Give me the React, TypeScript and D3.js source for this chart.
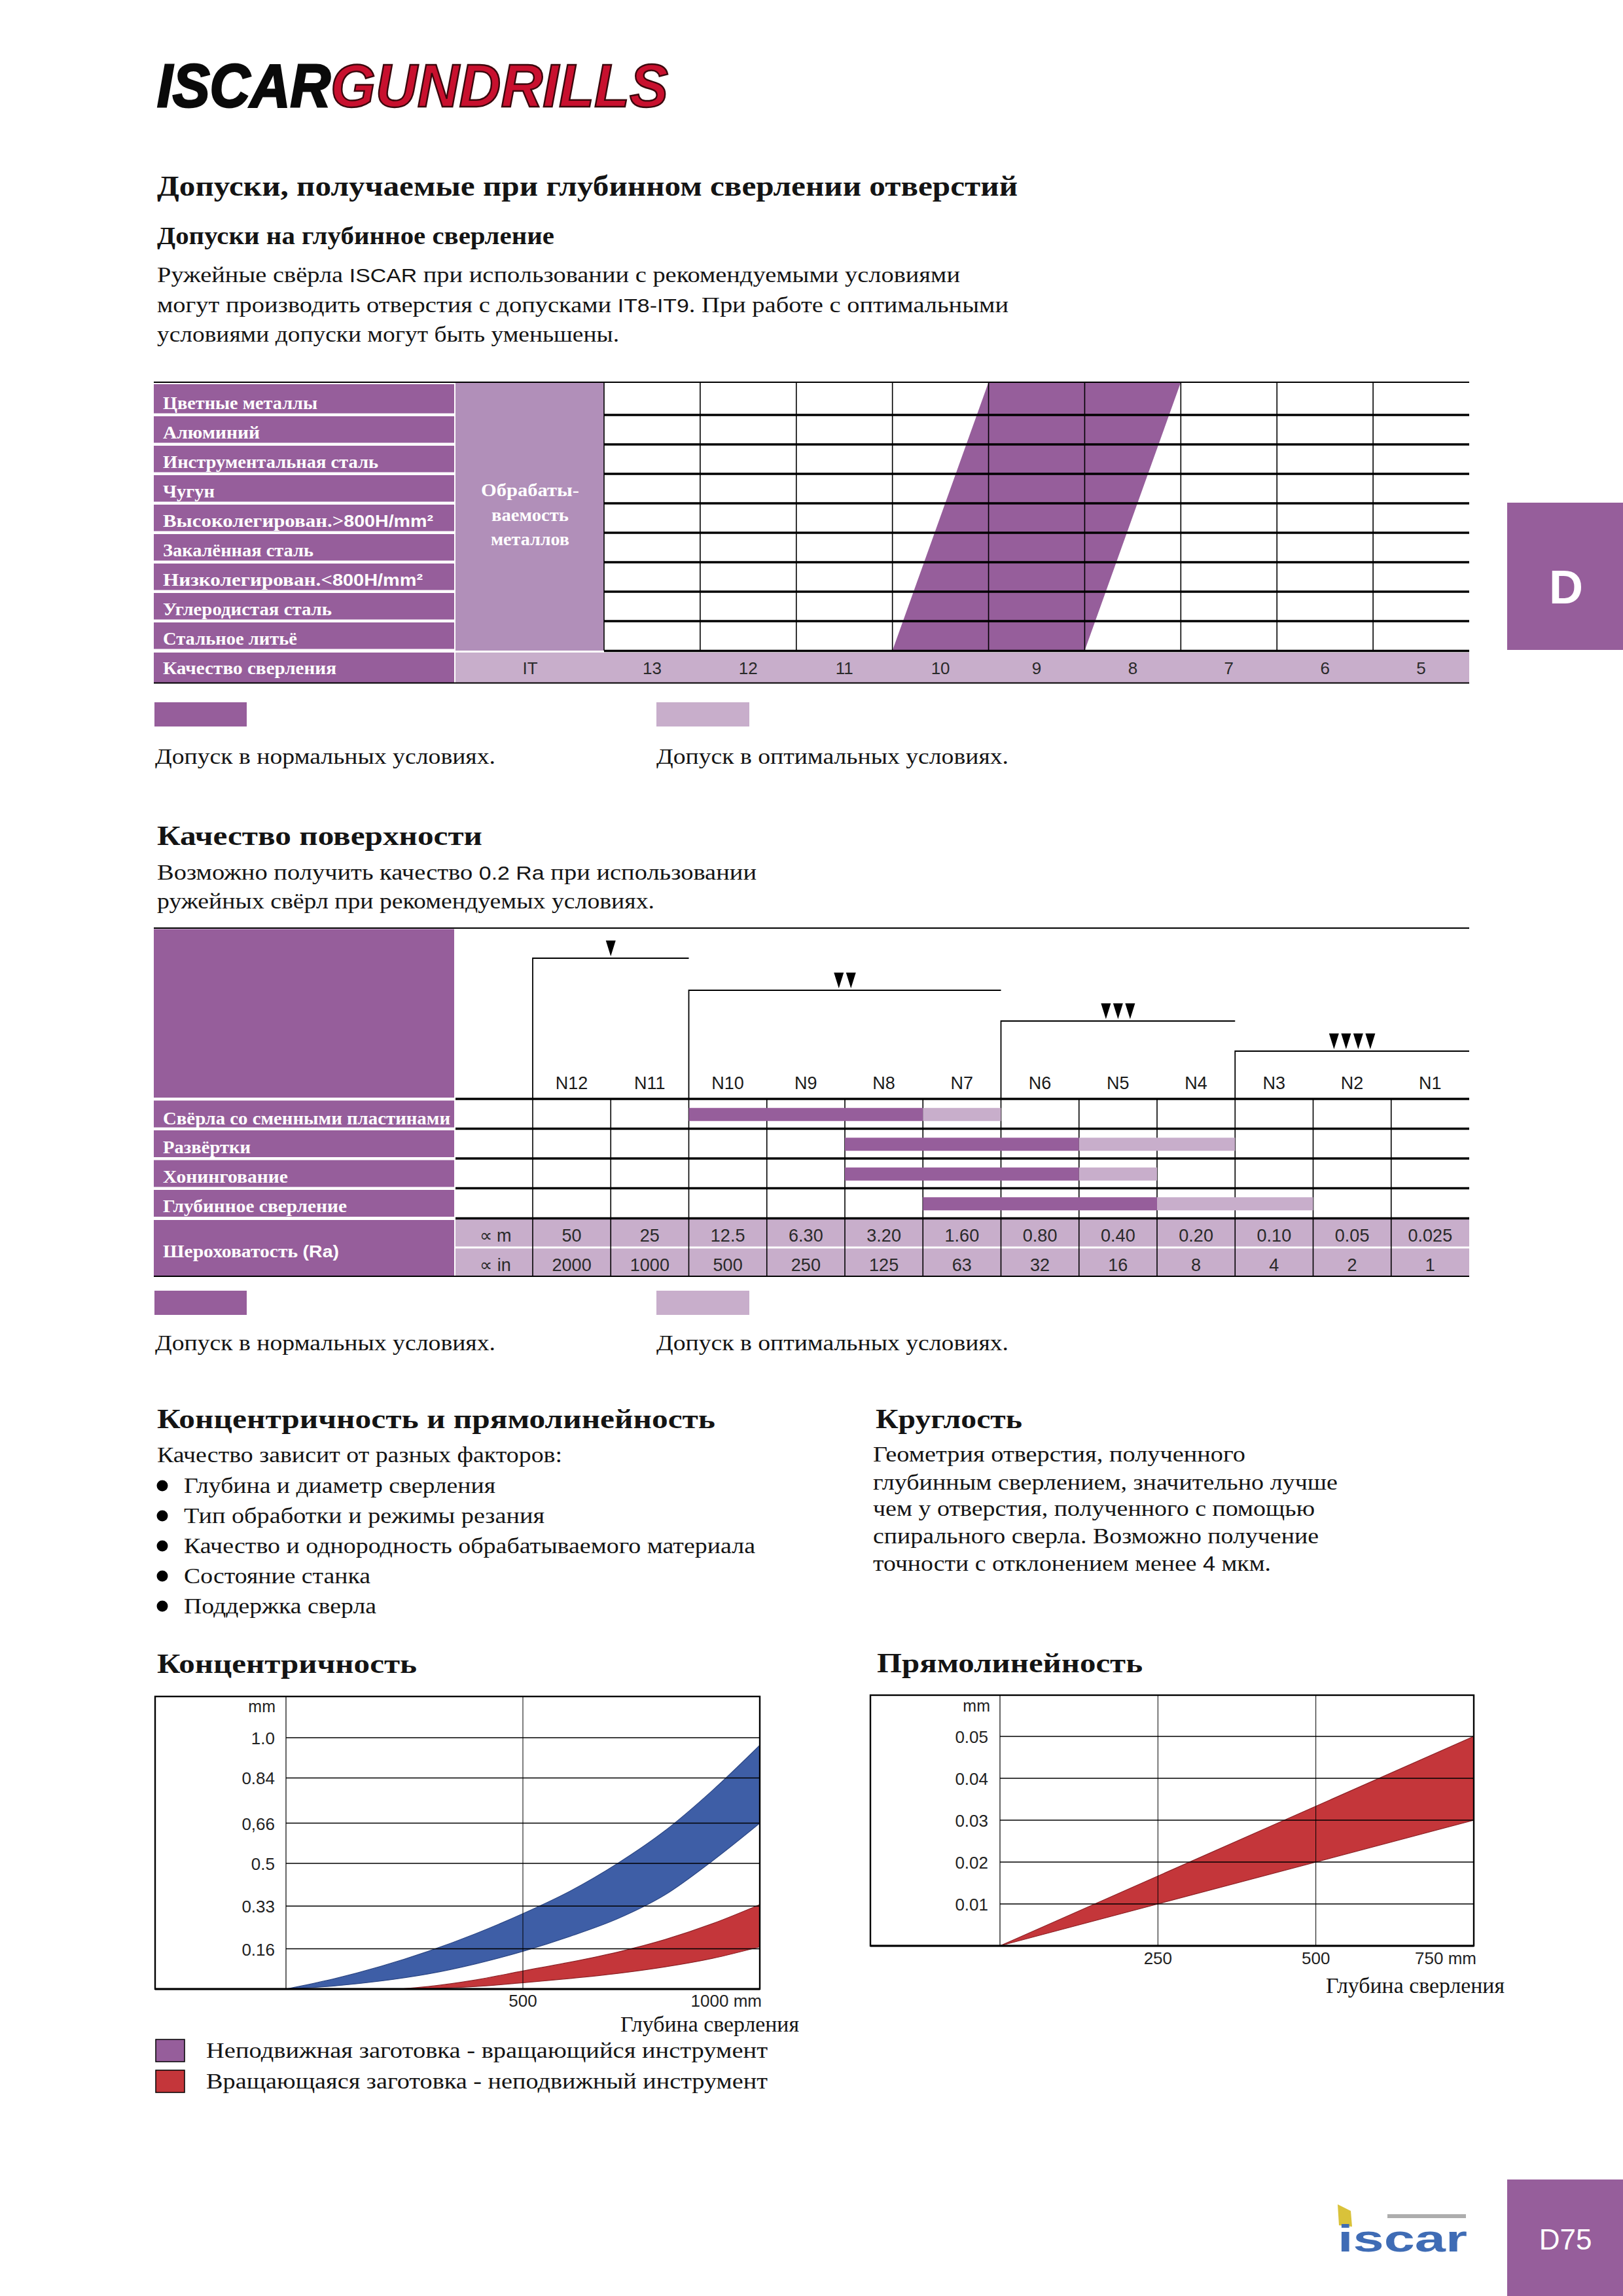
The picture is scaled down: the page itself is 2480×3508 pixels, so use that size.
import React from "react";
import * as d3 from "d3";

const SERIF = "'Liberation Serif','Times New Roman',serif";
const SANS = "'Liberation Sans',Arial,Helvetica,sans-serif";

const PURPLE = "#965e9b";
const PURPLE_LIGHT = "#c8aecb";
const PURPLE_MID = "#b18fb9";
const BLUE = "#3e5ea6";
const RED = "#c4363a";
const LOGO_RED = "#c8102e";
const INK = "#141414";

// ---------- texts ----------
const pageTitle = "Допуски, получаемые при глубинном сверлении отверстий";
const subTitle = "Допуски на глубинное сверление";
const introLines = [
  ["Ружейные свёрла ", "ISCAR", " при использовании с рекомендуемыми условиями"],
  ["могут производить отверстия с допусками ", "IT8-IT9", ". При работе с оптимальными"],
  ["условиями допуски могут быть уменьшены.", "", ""],
];

// ---------- table 1: IT tolerances ----------
const materials = [
  "Цветные металлы",
  "Алюминий",
  "Инструментальная сталь",
  "Чугун",
  "Высоколегирован.>800H/mm²",
  "Закалённая сталь",
  "Низколегирован.<800H/mm²",
  "Углеродистая сталь",
  "Стальное литьё",
];
const drillQualityLabel = "Качество сверления";
const machinabilityLabel = ["Обрабаты-", "ваемость", "металлов"];
const itLabel = "IT";
const itGrades = ["13", "12", "11", "10", "9", "8", "7", "6", "5"];
const normalBandFirstRow = ["9", "8"];
const normalBandLastRow = ["10", "9"];
const legendNormal = "Допуск в нормальных условиях.";
const legendOptimal = "Допуск в оптимальных условиях.";

// ---------- table 2: surface quality ----------
const surfaceTitle = "Качество поверхности";
const surfaceLines = [
  ["Возможно получить качество ", "0.2 Ra", " при использовании"],
  ["ружейных свёрл при рекомендуемых условиях.", "", ""],
];
const nGrades = ["N12", "N11", "N10", "N9", "N8", "N7", "N6", "N5", "N4", "N3", "N2", "N1"];
const raMicron = ["50", "25", "12.5", "6.30", "3.20", "1.60", "0.80", "0.40", "0.20", "0.10", "0.05", "0.025"];
const raMicroinch = ["2000", "1000", "500", "250", "125", "63", "32", "16", "8", "4", "2", "1"];
const raUnits = ["∝ m", "∝ in"];
const raLabel = ["Шероховатость ", "(Ra)"];
const processes = [
  "Свёрла со сменными пластинами",
  "Развёртки",
  "Хонингование",
  "Глубинное сверление",
];
const normalRange = [["N10", "N8"], ["N8", "N6"], ["N8", "N6"], ["N7", "N5"]];
const optimalRange = [["N7", "N7"], ["N5", "N4"], ["N5", "N5"], ["N4", "N3"]];
const qualityGroups = [
  { from: "N12", to: "N11", marks: 1 },
  { from: "N10", to: "N7", marks: 2 },
  { from: "N6", to: "N4", marks: 3 },
  { from: "N3", to: "N1", marks: 4 },
];

// ---------- section 3 ----------
const concTitle = "Концентричность и прямолинейность";
const concIntro = "Качество зависит от разных факторов:";
const concBullets = [
  "Глубина и диаметр сверления",
  "Тип обработки и режимы резания",
  "Качество и однородность обрабатываемого материала",
  "Состояние станка",
  "Поддержка сверла",
];
const roundTitle = "Круглость";
const roundLines = [
  ["Геометрия отверстия, полученного", ""],
  ["глубинным сверлением, значительно лучше", ""],
  ["чем у отверстия, полученного с помощью", ""],
  ["спирального сверла. Возможно получение", ""],
  ["точности с отклонением менее ", "4", " мкм."],
];

// ---------- chart: concentricity ----------
const concChartTitle = "Концентричность";
const concDepth = [0, 100, 200, 300, 400, 500, 600, 700, 800, 900, 1000];
const concStationaryUpper = [0, 0.04, 0.09, 0.15, 0.22, 0.3, 0.39, 0.5, 0.63, 0.79, 0.97];
const concStationaryLower = [0, 0.012, 0.032, 0.06, 0.1, 0.15, 0.21, 0.28, 0.375, 0.51, 0.66];
const concRotDepth = [240, 300, 400, 500, 600, 700, 800, 900, 1000];
const concRotUpper = [0, 0.01, 0.036, 0.072, 0.107, 0.147, 0.197, 0.26, 0.336];
const concRotLower = [0, 0.002, 0.01, 0.025, 0.042, 0.062, 0.088, 0.122, 0.168];
const concYTicks = [0.16, 0.33, 0.5, 0.66, 0.84, 1.0];
const concYTickLabels = ["0.16", "0.33", "0.5", "0,66", "0.84", "1.0"];
const concXTicks = [500, 1000];
const concXTickLabels = ["500", "1000 mm"];
const concLegend = [
  "Неподвижная заготовка - вращающийся инструмент",
  "Вращающаяся заготовка - неподвижный инструмент",
];
const depthLabel = "Глубина сверления";

// ---------- chart: straightness ----------
const straightTitle = "Прямолинейность";
const straightDepth = [0, 750];
const straightUpper = [0, 0.05];
const straightLower = [0, 0.03];
const straightYTicks = [0.01, 0.02, 0.03, 0.04, 0.05];
const straightYTickLabels = ["0.01", "0.02", "0.03", "0.04", "0.05"];
const straightXTicks = [250, 500, 750];
const straightXTickLabels = ["250", "500", "750 mm"];

function T(props: any) {
  const { x, y, w, size, weight, family = SERIF, anchor = "start", fill = INK, children, italic } = props;
  return (
    <text
      x={x}
      y={y}
      fontSize={size}
      fontFamily={family}
      fontWeight={weight}
      fontStyle={italic ? "italic" : undefined}
      textAnchor={anchor}
      fill={fill}
      textLength={w}
      lengthAdjust={w ? "spacingAndGlyphs" : undefined}
    >
      {children}
    </text>
  );
}

function Mixed({ parts, x, y, w, size, fill = INK }: any) {
  return (
    <text x={x} y={y} fontSize={size} fontFamily={SERIF} fill={fill} textLength={w} lengthAdjust="spacingAndGlyphs">
      {parts[0]}
      {parts[1] ? (
        <tspan fontFamily={SANS} fontSize={size * 0.88}>
          {parts[1]}
        </tspan>
      ) : null}
      {parts[2] || null}
    </text>
  );
}

function tri(cx: number, bottom: number, count: number) {
  const w = 15, h = 24, pitch = 18.5;
  const start = cx - ((count - 1) * pitch) / 2;
  return d3.range(count).map((i) => {
    const c = start + i * pitch;
    return `M${c - w / 2},${bottom - h}L${c + w / 2},${bottom - h}L${c},${bottom}Z`;
  }).join("");
}

export default function App() {
  const W = 2480, H = 3508;

  const xIT = d3.scaleBand<string>().domain(itGrades).range([923, 2245]);
  const yMat = d3.scaleBand<string>().domain(materials).range([589, 994]);
  const bw = xIT.bandwidth();
  const matW = [236, 148, 329, 79, 413, 230, 397, 258, 205];
  const bandPath = `M${xIT(normalBandFirstRow[0])},584 L${(xIT(normalBandFirstRow[1]) as number) + bw},584 L${(xIT(normalBandLastRow[1]) as number) + bw},994 L${xIT(normalBandLastRow[0])},994 Z`;

  const xN = d3.scaleBand<string>().domain(nGrades).range([814, 2245]);
  const nbw = xN.bandwidth();
  const yP = d3.scaleBand<string>().domain(processes).range([1679, 1861]);
  const pW = [439, 134, 191, 281];
  const procBase = [1718, 1762, 1807, 1852];
  const bracketY = [1464, 1513, 1560, 1606];

  const xC = d3.scaleLinear().domain([0, 1000]).range([437, 1161]);
  const yC = d3.scaleLinear().domain([0, 1]).range([3039, 2655]);
  const areaStationary = d3
    .area<number>()
    .x((_, i) => xC(concDepth[i]))
    .y0((_, i) => yC(concStationaryLower[i]))
    .y1((d) => yC(d))
    .curve(d3.curveMonotoneX)(concStationaryUpper);
  const areaRot = d3
    .area<number>()
    .x((_, i) => xC(concRotDepth[i]))
    .y0((_, i) => yC(concRotLower[i]))
    .y1((d) => yC(d))
    .curve(d3.curveMonotoneX)(concRotUpper);

  const xS = d3.scaleLinear().domain([0, 750]).range([1528, 2252]);
  const yS = d3.scaleLinear().domain([0, 0.05]).range([2973, 2653]);
  const areaStraight = d3
    .area<number>()
    .x((_, i) => xS(straightDepth[i]))
    .y0((_, i) => yS(straightLower[i]))
    .y1((d) => yS(d))(straightUpper);

  const introW = [1227, 1301, 706];
  const introY = [431, 477, 522];
  const roundW = [569, 710, 675, 681, 608];
  const roundY = [2233, 2276, 2316, 2358, 2400];
  const bulletY = [2281, 2327, 2373, 2419, 2465];
  const bulletW = [476, 551, 873, 285, 294];

  return (
    <svg width={W} height={H} viewBox={`0 0 ${W} ${H}`} style={{ position: "absolute", left: 0, top: 0, display: "block", background: "#fff" }}>
      <rect x={0} y={0} width={W} height={H} fill="#fff" />

      {/* header logo */}
      <text x={240} y={163} fontSize={92} fontFamily={SANS} fontWeight={700} fontStyle="italic" fill="#0a0a0a" stroke="#0a0a0a" strokeWidth={3} textLength={265} lengthAdjust="spacingAndGlyphs">ISCAR</text>
      <text x={505} y={163} fontSize={92} fontFamily={SANS} fontWeight={700} fontStyle="italic" fill={LOGO_RED} stroke="#3a070c" strokeWidth={2.5} textLength={516} lengthAdjust="spacingAndGlyphs">GUNDRILLS</text>

      {/* title */}
      <T x={240} y={299} w={1315} size={45} weight={700}>{pageTitle}</T>
      <T x={240} y={373} w={607} size={38} weight={700}>{subTitle}</T>
      {introLines.map((p, i) => (
        <Mixed key={i} parts={p} x={240} y={introY[i]} w={introW[i]} size={34} />
      ))}

      {/* table 1 */}
      <path d={bandPath} fill={PURPLE} />
      <rect x={696} y={585} width={227} height={409} fill={PURPLE_MID} />
      {machinabilityLabel.map((t, i) => (
        <T key={i} x={810} y={[758, 796, 833][i]} w={[150, 118, 120][i]} size={28} weight={700} anchor="middle" fill="#fff">{t}</T>
      ))}
      {materials.map((m, i) => {
        const y0 = (yMat(m) as number) - (i === 0 ? 4 : 0);
        const y1 = (yMat(m) as number) + yMat.bandwidth() - 2.5;
        const match = m.match(/^(.*?[<>])(800H\/mm²)$/);
        return (
          <g key={m}>
            <rect x={235} y={y0 + 2} width={459} height={y1 - y0 - 2} fill={PURPLE} />
            {match ? (
              <text x={249} y={(yMat(m) as number) + 36} fontSize={27} fontFamily={SERIF} fontWeight={700} fill="#fff" textLength={matW[i]} lengthAdjust="spacingAndGlyphs">
                {match[1]}
                <tspan fontFamily={SANS} fontSize={25}>{match[2]}</tspan>
              </text>
            ) : (
              <T x={249} y={(yMat(m) as number) + 36} w={matW[i]} size={27} weight={700} fill="#fff">{m}</T>
            )}
          </g>
        );
      })}
      <rect x={235} y={997} width={459} height={46} fill={PURPLE} />
      <T x={249} y={1030} w={265} size={27} weight={700} fill="#fff">{drillQualityLabel}</T>
      <rect x={696} y={997} width={1549} height={46} fill={PURPLE_LIGHT} />
      <T x={810} y={1030} size={26} family={SANS} anchor="middle" fill="#2a2a2a">{itLabel}</T>
      {itGrades.map((g) => (
        <T key={g} x={(xIT(g) as number) + bw / 2} y={1030} size={26} family={SANS} anchor="middle" fill="#2a2a2a">{g}</T>
      ))}
      {itGrades.map((g) => (
        <line key={g} x1={xIT(g)} x2={xIT(g)} y1={584} y2={994} stroke="#000" strokeWidth={1.6} />
      ))}
      {materials.slice(1).map((m) => (
        <line key={m} x1={923} x2={2245} y1={yMat(m)} y2={yMat(m)} stroke="#000" strokeWidth={3.4} />
      ))}
      <line x1={923} x2={2245} y1={994.5} y2={994.5} stroke="#000" strokeWidth={3.6} />
      <line x1={235} x2={2245} y1={584} y2={584} stroke="#000" strokeWidth={2.2} />
      <line x1={235} x2={2245} y1={1043.5} y2={1043.5} stroke="#000" strokeWidth={2} />

      {/* legend 1 */}
      <rect x={236} y={1073} width={141} height={37} fill={PURPLE} />
      <rect x={1003} y={1073} width={142} height={37} fill={PURPLE_LIGHT} />
      <T x={237} y={1167} w={520} size={34}>{legendNormal}</T>
      <T x={1003} y={1167} w={538} size={34}>{legendOptimal}</T>

      {/* section 2 */}
      <T x={240} y={1291} w={497} size={43} weight={700}>{surfaceTitle}</T>
      {surfaceLines.map((p, i) => (
        <Mixed key={i} parts={p} x={240} y={[1344, 1388][i]} w={[916, 760][i]} size={34} />
      ))}

      <rect x={235} y={1419.5} width={459} height={257.5} fill={PURPLE} />
      {processes.map((p, i) => {
        const y0 = yP(p) as number;
        return (
          <g key={p}>
            <rect x={235} y={y0 + 2.5} width={459} height={yP.bandwidth() - 4.5} fill={PURPLE} />
            <T x={249} y={procBase[i]} w={pW[i]} size={27} weight={700} fill="#fff">{p}</T>
          </g>
        );
      })}
      <rect x={235} y={1864} width={459} height={86} fill={PURPLE} />
      <text x={249} y={1921} fontSize={27} fontFamily={SERIF} fontWeight={700} fill="#fff" textLength={269} lengthAdjust="spacingAndGlyphs">
        {raLabel[0]}
        <tspan fontFamily={SANS} fontSize={26}>{raLabel[1]}</tspan>
      </text>
      <rect x={696} y={1863} width={1549} height={86} fill={PURPLE_LIGHT} />
      <line x1={696} x2={2245} y1={1906} y2={1906} stroke="#fff" strokeWidth={3} />
      <T x={757} y={1897} size={27} family={SANS} anchor="middle" fill="#2a2a2a">{raUnits[0]}</T>
      <T x={757} y={1942} size={27} family={SANS} anchor="middle" fill="#2a2a2a">{raUnits[1]}</T>
      {nGrades.map((n, i) => (
        <g key={n}>
          <T x={(xN(n) as number) + nbw / 2} y={1664} size={27} family={SANS} anchor="middle" fill="#1a1a1a">{n}</T>
          <T x={(xN(n) as number) + nbw / 2} y={1897} size={27} family={SANS} anchor="middle" fill="#2a2a2a">{raMicron[i]}</T>
          <T x={(xN(n) as number) + nbw / 2} y={1942} size={27} family={SANS} anchor="middle" fill="#2a2a2a">{raMicroinch[i]}</T>
          <line x1={xN(n)} x2={xN(n)} y1={1679} y2={1950} stroke="#000" strokeWidth={1.6} />
        </g>
      ))}
      {processes.map((p, i) => {
        const cy = (yP(p) as number) + yP.bandwidth() / 2 + 1;
        const n0 = xN(normalRange[i][0]) as number;
        const n1 = (xN(normalRange[i][1]) as number) + nbw;
        const o0 = xN(optimalRange[i][0]) as number;
        const o1 = (xN(optimalRange[i][1]) as number) + nbw;
        return (
          <g key={p}>
            <rect x={n0} y={cy - 10} width={n1 - n0} height={20} fill={PURPLE} />
            <rect x={o0} y={cy - 10} width={o1 - o0} height={20} fill={PURPLE_LIGHT} />
          </g>
        );
      })}
      {processes.map((p) => (
        <line key={p} x1={696} x2={2245} y1={yP(p)} y2={yP(p)} stroke="#000" strokeWidth={3.4} />
      ))}
      <line x1={696} x2={2245} y1={1861.5} y2={1861.5} stroke="#000" strokeWidth={3.4} />
      <line x1={235} x2={2245} y1={1418} y2={1418} stroke="#000" strokeWidth={2} />
      <line x1={235} x2={2245} y1={1950} y2={1950} stroke="#000" strokeWidth={2.2} />
      {qualityGroups.map((g, i) => {
        const x0 = xN(g.from) as number;
        const x1 = (xN(g.to) as number) + nbw;
        const y = bracketY[i];
        return (
          <g key={i}>
            <path d={`M${x0},1679 L${x0},${y} L${x1},${y}`} fill="none" stroke="#000" strokeWidth={1.8} />
            <path d={tri((x0 + x1) / 2, y - 3, g.marks)} fill="#000" />
          </g>
        );
      })}

      {/* legend 2 */}
      <rect x={236} y={1972} width={141} height={37} fill={PURPLE} />
      <rect x={1003} y={1972} width={142} height={37} fill={PURPLE_LIGHT} />
      <T x={237} y={2063} w={520} size={34}>{legendNormal}</T>
      <T x={1003} y={2063} w={538} size={34}>{legendOptimal}</T>

      {/* section 3 */}
      <T x={240} y={2182} w={853} size={43} weight={700}>{concTitle}</T>
      <T x={1338} y={2182} w={224} size={43} weight={700}>{roundTitle}</T>
      <T x={240} y={2234} w={619} size={34}>{concIntro}</T>
      {concBullets.map((b, i) => (
        <g key={b}>
          <circle cx={248} cy={bulletY[i] - 11} r={8.5} fill="#000" />
          <T x={281} y={bulletY[i]} w={bulletW[i]} size={34}>{b}</T>
        </g>
      ))}
      {roundLines.map((p, i) => (
        <text key={i} x={1334} y={roundY[i]} fontSize={34} fontFamily={SERIF} fill={INK} textLength={roundW[i]} lengthAdjust="spacingAndGlyphs">
          {p[0]}
          {p[1] ? <tspan fontFamily={SANS} fontSize={31}>{p[1]}</tspan> : null}
          {p[2] || null}
        </text>
      ))}

      {/* concentricity chart */}
      <T x={240} y={2556} w={397} size={42} weight={700}>{concChartTitle}</T>
      <path d={areaStationary || ""} fill={BLUE} stroke="#2b4684" strokeWidth={1.2} />
      <path d={areaRot || ""} fill={RED} stroke="#8d2226" strokeWidth={1.2} />
      {concYTicks.map((t) => (
        <line key={t} x1={437} x2={1161} y1={yC(t)} y2={yC(t)} stroke="#000" strokeWidth={1.4} />
      ))}
      {concXTicks.slice(0, 1).map((t) => (
        <line key={t} x1={xC(t)} x2={xC(t)} y1={2592} y2={3039} stroke="#000" strokeWidth={1} />
      ))}
      <line x1={437} x2={437} y1={2592} y2={3039} stroke="#000" strokeWidth={1.2} />
      <rect x={237} y={2592} width={924} height={447} fill="none" stroke="#000" strokeWidth={2.4} />
      <line x1={237} x2={1161} y1={3039} y2={3039} stroke="#000" strokeWidth={3.2} />
      <T x={421} y={2616} size={25} family={SANS} anchor="end" fill="#222">mm</T>
      {concYTicks.map((t, i) => (
        <T key={t} x={420} y={yC(t) + 10} size={26} family={SANS} anchor="end" fill="#222">{concYTickLabels[i]}</T>
      ))}
      {concXTicks.map((t, i) => (
        <T key={t} x={i === concXTicks.length - 1 ? xC(t) + 3 : xC(t)} y={3066} size={26} family={SANS} anchor={i === concXTicks.length - 1 ? "end" : "middle"} fill="#222">{concXTickLabels[i]}</T>
      ))}
      <T x={1221} y={3104} w={273} size={34} anchor="end">{depthLabel}</T>
      <rect x={238} y={3116} width={44} height={34} fill={PURPLE} stroke="#000" strokeWidth={1.5} />
      <rect x={238} y={3163} width={44} height={34} fill={RED} stroke="#000" strokeWidth={1.5} />
      <T x={315} y={3144} w={858} size={34}>{concLegend[0]}</T>
      <T x={315} y={3191} w={858} size={34}>{concLegend[1]}</T>

      {/* straightness chart */}
      <T x={1340} y={2555} w={406} size={42} weight={700}>{straightTitle}</T>
      <path d={areaStraight || ""} fill={RED} stroke="#8d2226" strokeWidth={1.2} />
      {straightYTicks.map((t) => (
        <line key={t} x1={1528} x2={2252} y1={yS(t)} y2={yS(t)} stroke="#000" strokeWidth={1.4} />
      ))}
      {straightXTicks.slice(0, 2).map((t) => (
        <line key={t} x1={xS(t)} x2={xS(t)} y1={2590} y2={2973} stroke="#000" strokeWidth={1} />
      ))}
      <line x1={1528} x2={1528} y1={2590} y2={2973} stroke="#000" strokeWidth={1.2} />
      <rect x={1330} y={2590} width={922} height={383} fill="none" stroke="#000" strokeWidth={2.4} />
      <line x1={1330} x2={2252} y1={2973} y2={2973} stroke="#000" strokeWidth={3.2} />
      <T x={1513} y={2615} size={25} family={SANS} anchor="end" fill="#222">mm</T>
      {straightYTicks.map((t, i) => (
        <T key={t} x={1510} y={yS(t) + 10} size={26} family={SANS} anchor="end" fill="#222">{straightYTickLabels[i]}</T>
      ))}
      {straightXTicks.map((t, i) => (
        <T key={t} x={i === straightXTicks.length - 1 ? xS(t) + 4 : xS(t)} y={3001} size={26} family={SANS} anchor={i === straightXTicks.length - 1 ? "end" : "middle"} fill="#222">{straightXTickLabels[i]}</T>
      ))}
      <T x={2299} y={3045} w={273} size={34} anchor="end">{depthLabel}</T>

      {/* side tabs */}
      <rect x={2303} y={768} width={177} height={225} fill={PURPLE} />
      <T x={2393} y={922} size={72} weight={700} family={SANS} anchor="middle" fill="#fff">D</T>
      <rect x={2303} y={3330} width={177} height={178} fill={PURPLE} />
      <T x={2392} y={3437} size={44} family={SANS} anchor="middle" fill="#fff">D75</T>

      {/* bottom iscar logo */}
      <g>
        <path d="M2044,3368 L2064,3378 L2066,3402 L2046,3400 Z" fill="#d9c23a" />
        <rect x={2120} y={3383} width={120} height={6} fill="#8a8a8a" opacity={0.7} />
        <text x={2044} y={3440} fontSize={58} fontFamily={SANS} fontWeight={700} fill="#3f6cb5" textLength={198} lengthAdjust="spacingAndGlyphs">iscar</text>
      </g>
    </svg>
  );
}
